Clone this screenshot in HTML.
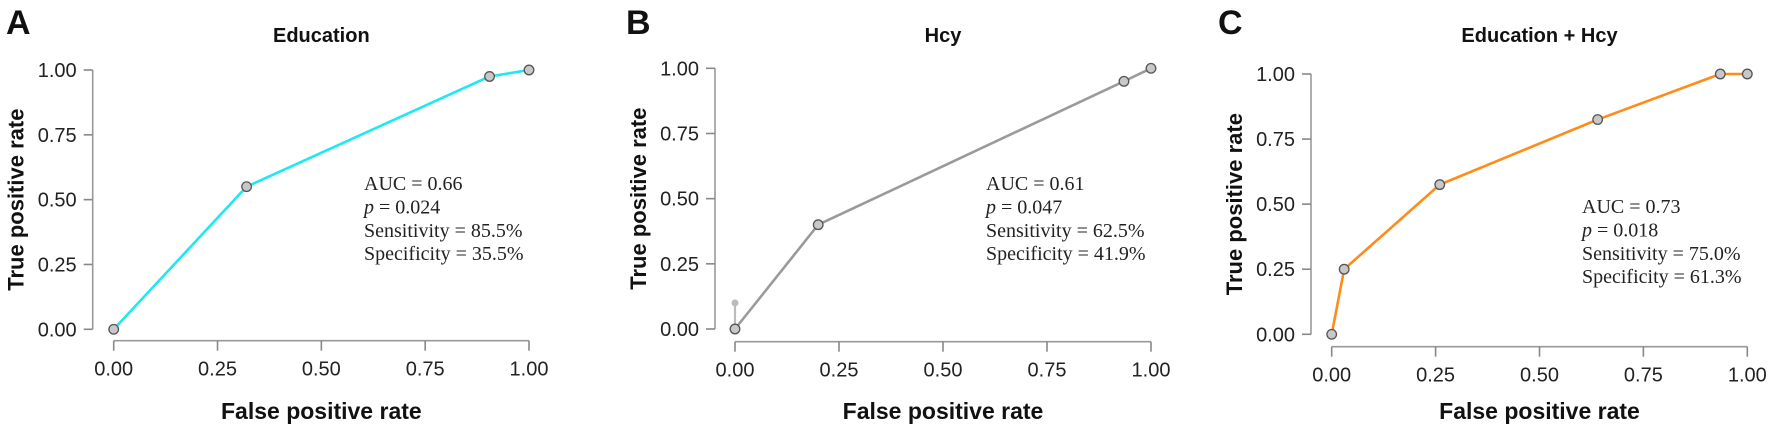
<!DOCTYPE html>
<html><head><meta charset="utf-8">
<style>
html,body{margin:0;padding:0;background:#fff;}
svg{display:block;}
text{font-family:"Liberation Sans",Arial,sans-serif;}
.ann{font-family:"Liberation Serif","Times New Roman",serif;font-size:20px;fill:#222;}
</style></head>
<body>
<svg id="fig" width="1772" height="431" viewBox="0 0 1772 431" xmlns="http://www.w3.org/2000/svg"></svg>
<script>
// ---- data ----
const panelLetters = ["A", "B", "C"];
const panelTitles = ["Education", "Hcy", "Education + Hcy"];
const tickValues = [0, 0.25, 0.5, 0.75, 1];
const tickLabels = ["0.00", "0.25", "0.50", "0.75", "1.00"];
const fprA = [0, 0.32, 0.905, 1];
const tprA = [0, 0.55, 0.975, 1];
const fprB = [0, 0.2, 0.935, 1];
const tprB = [0, 0.4, 0.95, 1];
const fprC = [0, 0.03, 0.26, 0.64, 0.935, 1];
const tprC = [0, 0.25, 0.575, 0.825, 1, 1];
const aucVals = ["0.66", "0.61", "0.73"];
const pVals = ["0.024", "0.047", "0.018"];
const sensVals = ["85.5%", "62.5%", "75.0%"];
const specVals = ["35.5%", "41.9%", "61.3%"];

// ---- layout ----
const layouts = [
  {x0:113.7, x1:529, y0:329.3, y1:70, yAxisX:92.7, xAxisY:340.7, letterX:6, annX:364, annY:190, color:"#1ee8f2"},
  {x0:735, x1:1151, y0:329, y1:68.3, yAxisX:715, xAxisY:341.7, letterX:626, annX:986, annY:190, color:"#9a9a9a"},
  {x0:1331.7, x1:1747.3, y0:334.3, y1:74, yAxisX:1311, xAxisY:346.7, letterX:1218, annX:1582, annY:213, color:"#ff8c1a"}
];
const fprs = [fprA, fprB, fprC];
const tprs = [tprA, tprB, tprC];
const NS = "http://www.w3.org/2000/svg";
const svg = document.getElementById("fig");
function mk(tag, attrs, parent){
  const e = document.createElementNS(NS, tag);
  for (const k in attrs) e.setAttribute(k, attrs[k]);
  (parent||svg).appendChild(e);
  return e;
}
layouts.forEach((L, i) => {
  const sx = v => L.x0 + v * (L.x1 - L.x0);
  const sy = v => L.y0 + v * (L.y1 - L.y0);
  const g = mk("g", {});
  
  

  const letter = mk("text", {x:L.letterX, y:34, "font-size":34, "font-weight":"bold", fill:"#111"}, g);
  letter.textContent = panelLetters[i];
  
  

  const title = mk("text", {x:(L.x0+L.x1)/2, y:42, "font-size":20, "font-weight":"bold", "text-anchor":"middle", fill:"#111"}, g);
  title.textContent = panelTitles[i];
  
  

  const ya = mk("line", {x1:L.yAxisX, x2:L.yAxisX, y1:sy(1), y2:sy(0), stroke:"#999", "stroke-width":1.6}, g);
  
  
  tickValues.forEach((v, k) => {
    const t = mk("line", {x1:L.yAxisX-9, x2:L.yAxisX, y1:sy(v), y2:sy(v), stroke:"#888", "stroke-width":1.6}, g);
    
    
    const tl = mk("text", {x:L.yAxisX-16, y:sy(v)+7, "font-size":20, "text-anchor":"end", fill:"#222"}, g);
    tl.textContent = tickLabels[k];
    
    
  });
  const xa = mk("line", {x1:sx(0), x2:sx(1), y1:L.xAxisY, y2:L.xAxisY, stroke:"#999", "stroke-width":1.6}, g);
  
  
  tickValues.forEach((v, k) => {
    const t = mk("line", {x1:sx(v), x2:sx(v), y1:L.xAxisY, y2:L.xAxisY+10, stroke:"#888", "stroke-width":1.6}, g);
    
    
    const tl = mk("text", {x:sx(v), y:L.xAxisY+35, "font-size":20, "text-anchor":"middle", fill:"#222"}, g);
    tl.textContent = tickLabels[k];
    
    
  });
  const xt = mk("text", {x:(L.x0+L.x1)/2, y:419, "font-size":23, "font-weight":"bold", "text-anchor":"middle", fill:"#111"}, g);
  xt.textContent = "False positive rate";
  
  
  const yc = L.yAxisX - 77, ym = (sy(0)+sy(1))/2;
  const yt = mk("text", {x:yc, y:ym, "font-size":22, "font-weight":"bold", "text-anchor":"middle", fill:"#111", transform:"rotate(-90 "+yc+" "+ym+") translate(0 8)"}, g);
  yt.textContent = "True positive rate";
  
  

  if (i === 1) {
    const st = mk("line", {x1:sx(0), x2:sx(0), y1:sy(0), y2:sy(0.1), stroke:"#bbb", "stroke-width":2.2}, g);
    
    
    const sd = mk("circle", {cx:sx(0), cy:sy(0.1), r:3.5, fill:"#bbb"}, g);
    
    
  }
  const pts = fprs[i].map((f, k) => sx(f) + "," + sy(tprs[i][k])).join(" ");
  const pl = mk("polyline", {points:pts, fill:"none", stroke:L.color, "stroke-width":2.6, "stroke-linejoin":"round"}, g);
  
  
  fprs[i].forEach((f, k) => {
    const c = mk("circle", {cx:sx(f), cy:sy(tprs[i][k]), r:4.8, fill:"#c8c8c8", stroke:"#555", "stroke-width":1.3}, g);
    
    
  });

  const lines = ["AUC = " + aucVals[i], "= " + pVals[i], "Sensitivity = " + sensVals[i], "Specificity = " + specVals[i]];
  lines.forEach((s, k) => {
    const t = mk("text", {x:L.annX, y:L.annY + k*23.4, class:"ann"}, g);
    if (k === 1) {
      const it = mk("tspan", {"font-style":"italic"}, t);
      it.textContent = "p ";
      const r = mk("tspan", {}, t);
      r.textContent = s;
    } else {
      t.textContent = s;
    }
    
    
  });
});
</script>
</body></html>
